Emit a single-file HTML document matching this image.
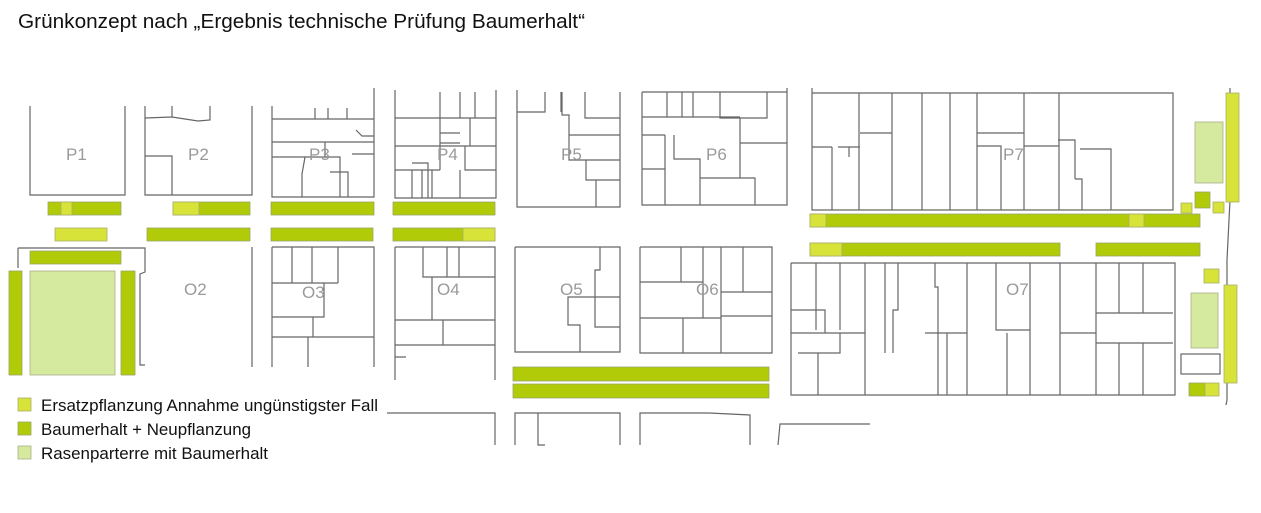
<!DOCTYPE html>
<html><head><meta charset="utf-8"><style>
html,body{margin:0;padding:0;background:#fff;}
svg{display:block;}
.o{fill:none;stroke:#666;stroke-width:1.2;}
.d{fill:#b2cb08;stroke:#9aa86a;stroke-width:0.8;}
.b{fill:#d8e33a;stroke:#a9b06a;stroke-width:0.8;}
.l{fill:#d6ea9f;stroke:#a9b08a;stroke-width:0.8;}
.lab{font-family:"Liberation Sans",sans-serif;font-size:17px;fill:#9a9a9a;}
.t{font-family:"Liberation Sans",sans-serif;fill:#111;}
</style></head><body>
<svg width="1261" height="513" viewBox="0 0 1261 513" xmlns="http://www.w3.org/2000/svg">
<text class="t" x="18" y="28" font-size="20" textLength="567" lengthAdjust="spacingAndGlyphs">Grünkonzept nach „Ergebnis technische Prüfung Baumerhalt“</text>

<path class="o" d="M30,106 V195 H125 V106"/>
<path class="o" d="M145,106 V195 H252 V106 M145,118 L172,117 L198,121 L210,120 V106 M172,117 V106 M145,156 H172 V195"/>
<path class="o" d="M272,106 V197 H374 V88 M272,119 H374 M272,142 H374 M272,157 H340 V197 M330,172 H348 V197 M325,142 V157 M315,108 V119 M328,108 V119 M347,108 V119 M356,130 L362,136 H374 M305,157 L302,174 V197 M352,154 H374"/>
<path class="o" d="M395,90 V198 H496 V90 M395,118 H496 M440,92 V118 M460,92 V118 M475,92 V118 M395,146 H496 M440,118 V170 M470,118 V146 M440,133 H460 M440,143 H460 M465,146 V170 H496 M395,170 H440 M412,163 H428 V198 M412,170 V198 M422,170 V198 M432,170 V198 M460,170 V198"/>
<path class="o" d="M517,90 V207 H620 V92 M517,112 H545 V96 M545,92 V112 M561,92 V112 M562,92 V115 H569 V135 H620 M585,92 V118 H620 M569,135 V160 H620 M586,160 V180 H620 M596,180 V207"/>
<path class="o" d="M642,92 V205 H787 V88 M642,92 H787 M667,92 V117 M682,92 V117 M693,92 V117 M720,92 V118 H767 V92 M642,117 H740 M642,135 H665 M665,135 V205 M642,169 H665 M740,118 V178 M740,143 H787 M674,135 V159 H700 V178 H740 M700,178 V205 M707,178 H755 V205"/>
<path class="o" d="M812,88 V210 H1173 V93 H812 M859,93 V210 M892,93 V210 M922,93 V210 M950,93 V210 M977,93 V210 M1024,93 V210 M1059,93 V210 M812,147 H832 M832,147 V210 M838,147 H849 V157 M849,147 H860 M860,133 H892 M977,133 H1024 M977,146 H1001 V210 M1024,146 H1059 M1058,140 H1075 V179 M1080,149 H1111 V210 M1075,179 H1082 V210"/>

<path class="o" d="M18,248 V268 M18,248 H145 V272 L140,274 V365 H145 M252,247 V367"/>
<path class="o" d="M272,247 V367 M272,247 H374 V367 M292,247 V283 M312,247 V283 M338,247 V283 M272,283 H338 M272,283 V317 H324 V283 M272,317 V337 H313 V317 M272,337 H374 M308,337 V367 M313,337 H322"/>
<path class="o" d="M395,247 V380 M395,247 H495 V380 M423,247 V277 H495 M447,247 V277 M459,247 V277 M432,277 V320 M395,320 H495 M443,320 V345 H495 M395,345 H443 M395,357 H406"/>
<path class="o" d="M515,247 V352 H620 V247 H515 M600,247 V270 H595 V297 H568 V325 H580 V352 M595,297 V327 H620 M595,297 H620"/>
<path class="o" d="M640,247 V353 H772 V247 H640 M681,247 V282 M703,247 V318 M721,247 V318 M743,247 V292 M640,282 H703 M721,292 H772 M640,318 H721 M721,316 H772 M683,318 V353 M721,318 V353"/>
<path class="o" d="M791,263 V395 H1175 V263 H791 M816,263 V330 M840,263 V330 M865,263 V395 M885,263 V353 M898,263 V310 H893 V353 M935,263 V287 H938 V395 M967,263 V395 M996,263 V330 H1030 V395 M1030,263 V330 M1060,263 V395 M1096,263 V395 M1119,263 V313 M1143,263 V313 M1096,313 H1173 M1096,343 H1173 M1119,343 V395 M1143,343 V395 M791,310 H825 V333 M791,333 H865 M798,353 H840 V333 M818,353 V395 M925,333 H967 M947,333 V395 M1060,333 H1096 M1007,333 V395"/>
<path class="o" d="M1230,88 V200 L1227,260 V400 M1227,400 L1226,405"/>

<path class="o" d="M387,413 H495 V445 M515,445 V413 H620 V445 M538,413 V445 H545 M640,445 V413 H709 L750,415 V445 M778,445 L780,424 H870"/>

<rect class="d" x="48" y="202" width="73" height="13"/><rect class="b" x="61" y="202" width="11" height="13"/>
<rect class="d" x="173" y="202" width="77" height="13"/><rect class="b" x="173" y="202" width="26" height="13"/>
<rect class="d" x="271" y="202" width="103" height="13"/>
<rect class="d" x="393" y="202" width="102" height="13"/>
<rect class="b" x="55" y="228" width="52" height="13"/>
<rect class="d" x="147" y="228" width="103" height="13"/>
<rect class="d" x="271" y="228" width="102" height="13"/>
<rect class="d" x="393" y="228" width="102" height="13"/><rect class="b" x="463" y="228" width="32" height="13"/>
<rect class="d" x="30" y="251" width="91" height="13"/>
<rect class="d" x="9" y="271" width="13" height="104"/>
<rect class="l" x="30" y="271" width="85" height="104"/>
<rect class="d" x="121" y="271" width="14" height="104"/>
<rect class="d" x="810" y="214" width="390" height="13"/><rect class="b" x="810" y="214" width="16" height="13"/><rect class="b" x="1129" y="214" width="15" height="13"/>
<rect class="d" x="810" y="243" width="250" height="13"/><rect class="b" x="810" y="243" width="32" height="13"/>
<rect class="d" x="1096" y="243" width="104" height="13"/>
<rect class="b" x="1226" y="93" width="13" height="109"/>
<rect class="l" x="1195" y="122" width="28" height="61"/>
<rect class="d" x="1195" y="192" width="15" height="16"/>
<rect class="b" x="1213" y="202" width="11" height="11"/>
<rect class="b" x="1181" y="203" width="11" height="10"/>
<rect class="b" x="1204" y="269" width="15" height="14"/>
<rect class="l" x="1191" y="293" width="27" height="55"/>
<rect class="o" x="1181" y="354" width="39" height="20"/>
<rect class="b" x="1224" y="285" width="13" height="98"/>
<rect class="d" x="1189" y="383" width="16" height="13"/><rect class="b" x="1205" y="383" width="14" height="13"/>
<rect class="d" x="513" y="367" width="256" height="14"/>
<rect class="d" x="513" y="384" width="256" height="14"/>

<text class="lab" x="66" y="160">P1</text>
<text class="lab" x="188" y="160">P2</text>
<text class="lab" x="309" y="160">P3</text>
<text class="lab" x="437" y="160">P4</text>
<text class="lab" x="561" y="160">P5</text>
<text class="lab" x="706" y="160">P6</text>
<text class="lab" x="1003" y="160">P7</text>
<text class="lab" x="184" y="295">O2</text>
<text class="lab" x="302" y="298">O3</text>
<text class="lab" x="437" y="295">O4</text>
<text class="lab" x="560" y="295">O5</text>
<text class="lab" x="696" y="295">O6</text>
<text class="lab" x="1006" y="295">O7</text>

<rect class="b" x="18" y="398" width="13" height="13"/>
<rect class="d" x="18" y="422" width="13" height="13"/>
<rect class="l" x="18" y="446" width="13" height="13"/>
<text class="t" x="41" y="411" font-size="16.5" textLength="337" lengthAdjust="spacingAndGlyphs">Ersatzpflanzung Annahme ungünstigster Fall</text>
<text class="t" x="41" y="435" font-size="16.5" textLength="210" lengthAdjust="spacingAndGlyphs">Baumerhalt + Neupflanzung</text>
<text class="t" x="41" y="459" font-size="16.5" textLength="227" lengthAdjust="spacingAndGlyphs">Rasenparterre mit Baumerhalt</text>
</svg>
</body></html>
